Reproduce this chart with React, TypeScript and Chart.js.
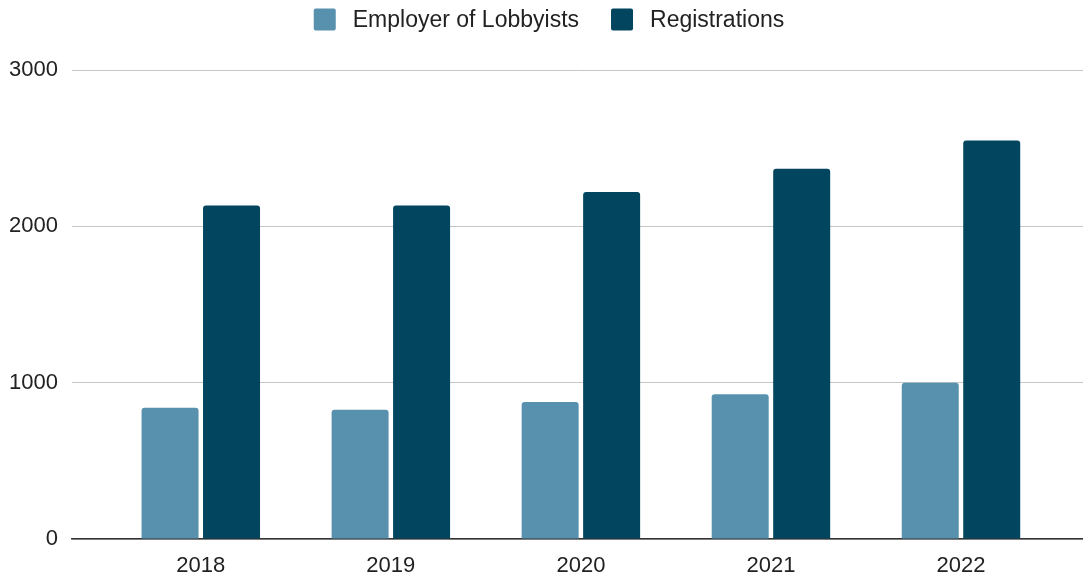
import React, { useEffect, useRef } from "react";
import { Chart, registerables } from "chart.js";

Chart.register(...registerables);

const years = ["2018", "2019", "2020", "2021", "2022"];
const employers = [840, 827, 876, 926, 1000];
const registrations = [2133, 2133, 2220, 2368, 2549];
const seriesNames = ["Employer of Lobbyists", "Registrations"];
const seriesColors = ["#5891ae", "#01455f"];
const yTicks = [0, 1000, 2000, 3000];

const FONT = "'Liberation Sans', Arial, sans-serif";

const legendPlugin = {
  id: "customLegend",
  afterDraw(chart: any) {
    const ctx = chart.ctx as CanvasRenderingContext2D;
    ctx.save();
    ctx.font = `23px ${FONT}`;
    ctx.textBaseline = "middle";
    ctx.textAlign = "left";
    const box = 22;
    const gap = 17;
    const itemGap = 32;
    const widths = seriesNames.map((n) => ctx.measureText(n).width);
    const total =
      widths.reduce((a, w) => a + box + gap + w, 0) + itemGap * (seriesNames.length - 1);
    let x = 549 - total / 2;
    const yTop = 8.5;
    seriesNames.forEach((name, i) => {
      ctx.fillStyle = seriesColors[i];
      ctx.beginPath();
      (ctx as any).roundRect(x, yTop, box, box, 2);
      ctx.fill();
      ctx.fillStyle = "#222222";
      ctx.fillText(name, x + box + gap, yTop + box / 2 + 1);
      x += box + gap + widths[i] + itemGap;
    });
    ctx.restore();
  },
};

export default function App() {
  const ref = useRef<HTMLCanvasElement | null>(null);

  useEffect(() => {
    document.body.style.margin = "0";
    if (!ref.current) return;
    Chart.defaults.font.family = FONT;
    const chart = new Chart(ref.current, {
      type: "bar",
      data: {
        datasets: [
          {
            label: seriesNames[0],
            data: employers.map((v, i) => ({ x: i, y: v })),
            backgroundColor: seriesColors[0],
            borderRadius: { topLeft: 3, topRight: 3, bottomLeft: 0, bottomRight: 0 },
            borderSkipped: "start",
          },
          {
            label: seriesNames[1],
            data: registrations.map((v, i) => ({ x: i, y: v })),
            backgroundColor: seriesColors[1],
            borderRadius: { topLeft: 3, topRight: 3, bottomLeft: 0, bottomRight: 0 },
            borderSkipped: "start",
          },
        ],
      },
      options: {
        animation: false,
        responsive: true,
        maintainAspectRatio: false,
        categoryPercentage: 0.647,
        barPercentage: 0.927,
        layout: { padding: { top: 70, right: 0, left: 0, bottom: 0 } },
        plugins: {
          legend: { display: false },
          tooltip: { enabled: false },
        },
        scales: {
          x: {
            type: "linear",
            offset: false,
            min: -0.6777,
            max: 4.642,
            grid: { display: false, drawTicks: false, offset: false },
            border: { display: true, color: "#333333", width: 1.5 },
            ticks: {
              stepSize: 1,
              includeBounds: false,
              padding: 14,
              color: "#222222",
              font: { size: 22, family: FONT },
              maxRotation: 0,
              autoSkip: false,
              callback: (v: any) =>
                Number.isInteger(v) && years[v] !== undefined ? years[v] : "",
            },
            afterFit: (s: any) => {
              s.height = 36;
            },
          },
          y: {
            min: 0,
            max: 3000,
            grid: { color: "#c6c6c6", lineWidth: 1, drawTicks: false },
            border: { display: false },
            afterBuildTicks: (s: any) => {
              s.ticks = yTicks.map((v) => ({ value: v }));
            },
            ticks: {
              padding: 14,
              color: "#222222",
              font: { size: 22, family: FONT },
              callback: (v: any) => String(v),
            },
            afterFit: (s: any) => {
              s.width = 72;
            },
          },
        },
      },
      plugins: [legendPlugin],
    });
    return () => chart.destroy();
  }, []);

  return (
    <div style={{ width: 1083, height: 575, position: "relative" }}>
      <canvas ref={ref} />
    </div>
  );
}
